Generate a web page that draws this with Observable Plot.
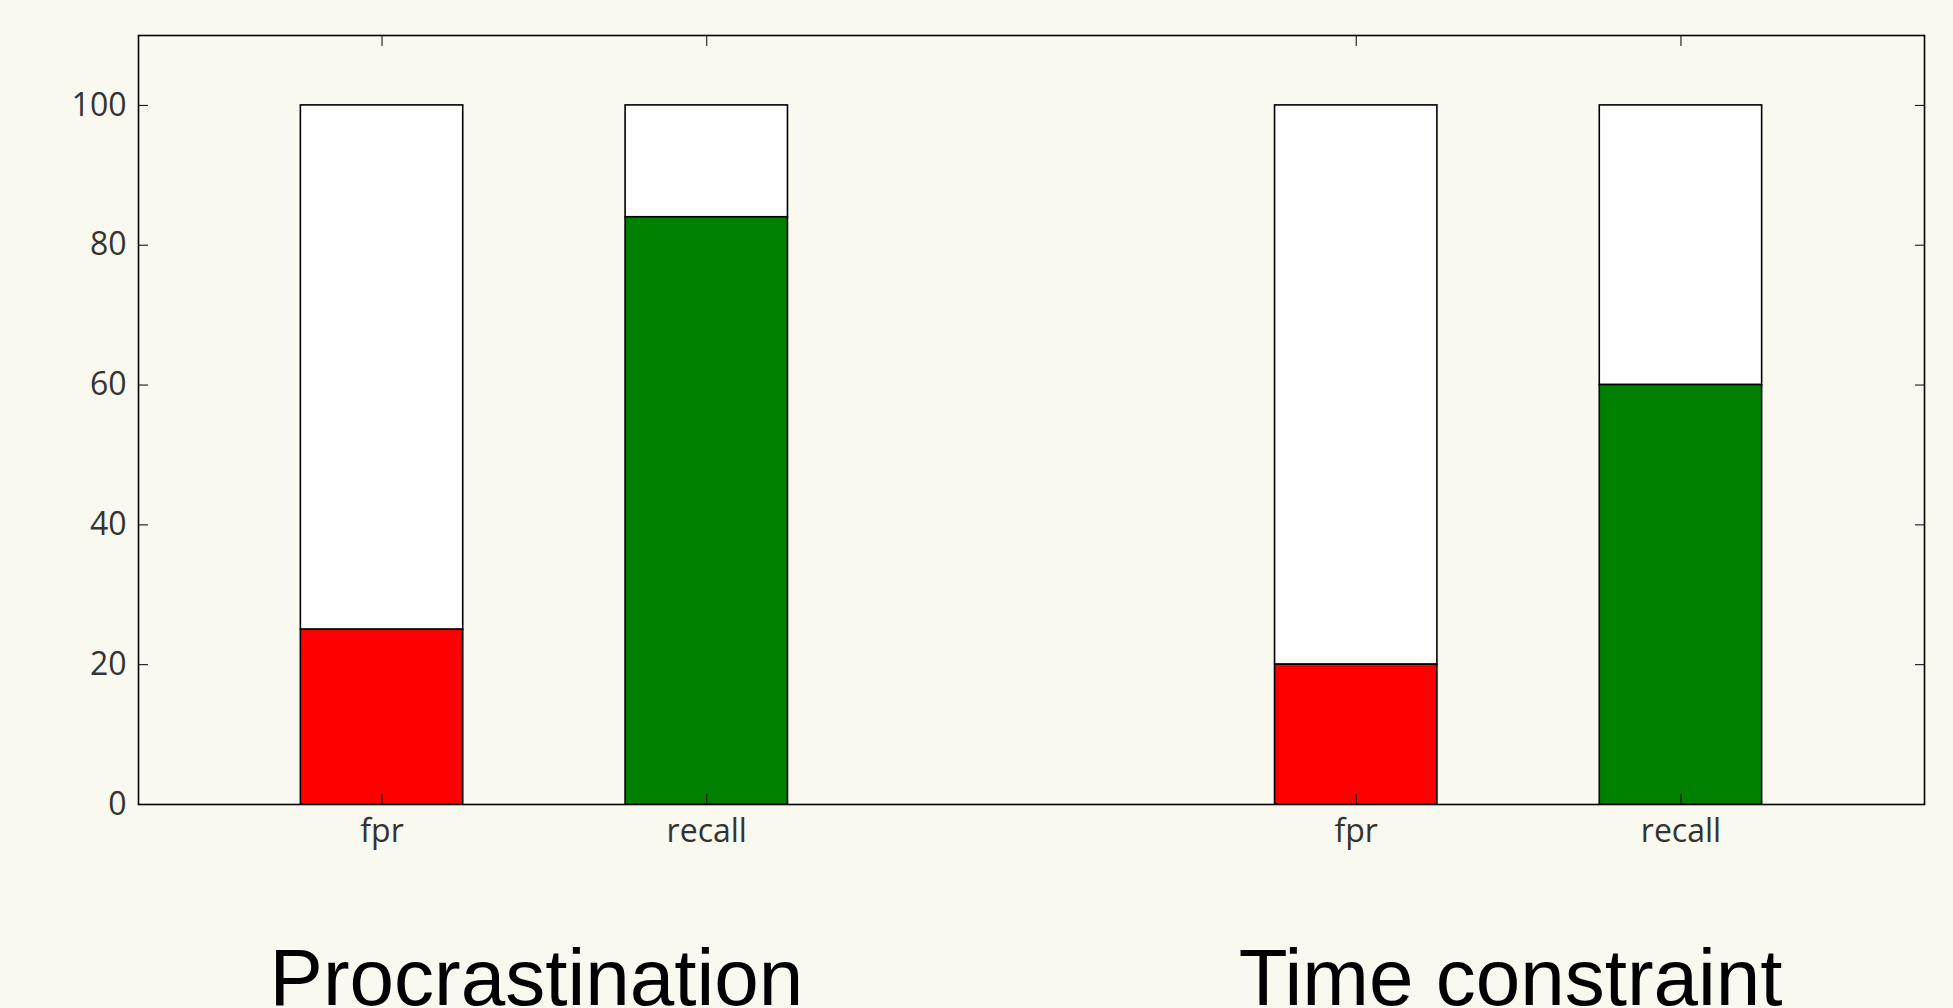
<!DOCTYPE html>
<html><head><meta charset="utf-8">
<script src="https://cdn.jsdelivr.net/npm/d3@7"></script>
<script src="https://cdn.jsdelivr.net/npm/@observablehq/plot@0.6"></script>
<style>
html,body{margin:0;padding:0;background:#f9f9f0;overflow:hidden;}
</style></head><body><div id="chart"></div>
<script>
const groups = ["Procrastination", "Time constraint"];
const metrics = ["fpr", "recall"];
const procrastination = [25, 84];
const timeConstraint = [20, 60];
const total = 100;
const yTicks = [0, 20, 40, 60, 80, 100];
const barColors = ["#ff0000", "#008000"];

const groupValues = [procrastination, timeConstraint];
const rows = [];
groups.forEach((g, gi) => metrics.forEach((m, mi) => {
  rows.push({group: g, metric: m, value: groupValues[gi][mi], x: gi * (metrics.length + 1) + mi});
}));
const groupRows = groups.map(g => {
  const r = rows.filter(d => d.group === g);
  return {group: g, cx: d3.mean(r, d => d.x)};
});
const xs = rows.map(d => d.x);
const barWidth = 0.5;
const pad = 0.75;

const chart = Plot.plot({
  width: 1953, height: 1008,
  marginLeft: 138, marginRight: 29, marginTop: 35, marginBottom: 204,
  style: {background: "#f9f9f0", color: "black"},
  x: {domain: [d3.min(xs) - pad, d3.max(xs) + pad], label: null},
  y: {domain: [0, 110], label: null},
  color: {domain: metrics, range: barColors},
  marks: [
    Plot.rect(rows, {x1: d => d.x - barWidth / 2, x2: d => d.x + barWidth / 2, y1: "value", y2: total, fill: "white", stroke: "black", strokeWidth: 1.6}),
    Plot.rect(rows, {x1: d => d.x - barWidth / 2, x2: d => d.x + barWidth / 2, y1: 0, y2: "value", fill: "metric", stroke: "black", strokeWidth: 1.6}),
    Plot.axisY(yTicks, {anchor: "left", tickSize: -10, tickPadding: 22, stroke: "black", fill: "#333", fontSize: 32, fontFamily: "Open Sans"}),
    Plot.axisY(yTicks, {anchor: "right", tickSize: -10, stroke: "black", fill: "none"}),
    Plot.axisX(xs, {anchor: "bottom", tickSize: -10, tickPadding: 25, stroke: "black", fill: "#333", fontSize: 32, fontFamily: "Open Sans",
      tickFormat: x => rows.find(d => d.x === x).metric}),
    Plot.axisX(xs, {anchor: "top", tickSize: -10, stroke: "black", fill: "none"}),
    Plot.frame({stroke: "black", strokeWidth: 1.6}),
    Plot.text(groupRows, {x: "cx", text: "group", frameAnchor: "bottom", lineAnchor: "bottom", dy: 200, dx: -8,
      fontSize: 80, fontFamily: "Liberation Sans", fill: "black"})
  ]
});
document.getElementById("chart").appendChild(chart);
</script>
</body></html>
